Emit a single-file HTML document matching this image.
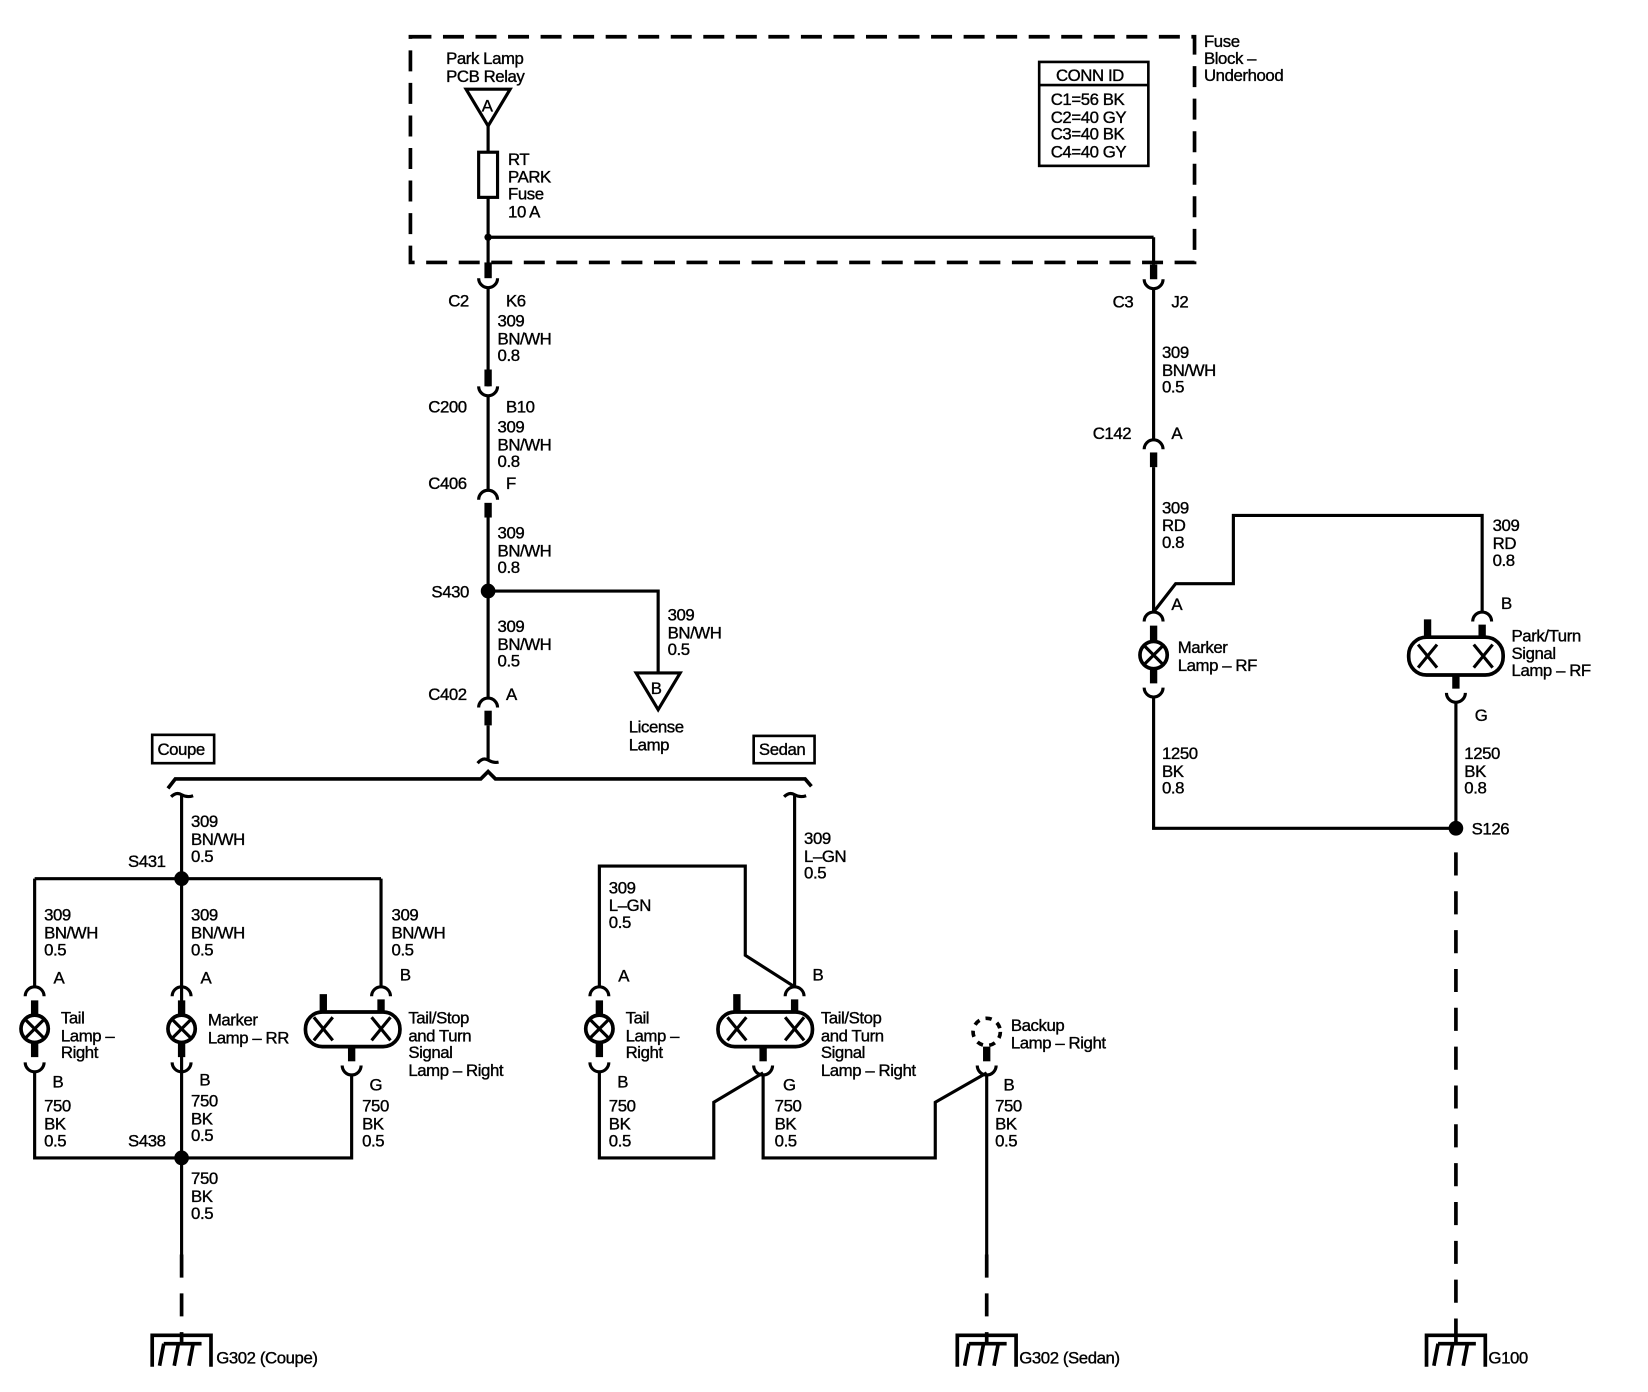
<!DOCTYPE html>
<html><head><meta charset="utf-8"><style>
html,body{margin:0;padding:0;background:#fff;}
svg{display:block;}
text{font-family:"Liberation Sans",Arial,sans-serif;font-size:16px;fill:#000;stroke:#000;stroke-width:0.35;letter-spacing:-0.4px;}
</style></head><body>
<svg width="1648" height="1392" viewBox="0 0 1570 1326" preserveAspectRatio="none" xmlns="http://www.w3.org/2000/svg">
<defs>
<!-- arc opening up (cup) -->
<path id="cupU" d="M-9,0 A9,9 0 0 0 9,0" fill="none" stroke="#000" stroke-width="3"/>
<!-- arc opening down (cap) -->
<path id="capD" d="M-9,0 A9,9 0 0 1 9,0" fill="none" stroke="#000" stroke-width="3"/>
<g id="bulb"><circle r="13" fill="#fff" stroke="#000" stroke-width="3.5"/><path d="M-9,-9 L9,9 M9,-9 L-9,9" stroke="#000" stroke-width="3"/></g>
<path id="xx" d="M-9,-11 L9,11 M9,-11 L-9,11" stroke="#000" stroke-width="3"/>
<g id="gnd" fill="none" stroke="#000" stroke-width="3.5"><path d="M-28,30 L-28,0 L28,0 L28,30"/><path d="M0,0 L0,8 M-17,8 L19,8 M-17,8 L-21,29 M-3,8 L-7,29 M11,8 L7,29"/></g>
</defs>
<g fill="none" stroke="#000" stroke-width="3">
<!-- fuse block dashed box -->
<rect x="391" y="35" width="747" height="215" stroke-dasharray="20 11" stroke-width="3.5"/>
<!-- conn id box -->
<rect x="990" y="59" width="104" height="99" stroke-width="2.5"/>
<line x1="990" y1="81" x2="1094" y2="81" stroke-width="2.5"/>
<!-- relay triangle -->
<polygon points="444,85 486,85 465,120"/>
<line x1="465" y1="120" x2="465" y2="252"/>
<rect x="456" y="145" width="18" height="43" fill="#fff"/>
<line x1="465" y1="226" x2="1099" y2="226"/>
<line x1="1099" y1="226" x2="1099" y2="252"/>
<!-- C2 -->
<line x1="465" y1="250" x2="465" y2="265" stroke-width="7"/>
<use href="#cupU" x="465" y="265"/>
<line x1="465" y1="274" x2="465" y2="368"/>
<!-- C200 -->
<line x1="465" y1="352" x2="465" y2="368" stroke-width="7"/>
<use href="#cupU" x="465" y="368"/>
<line x1="465" y1="377" x2="465" y2="467"/>
<!-- C406 -->
<use href="#capD" x="465" y="476"/>
<line x1="465" y1="479" x2="465" y2="493" stroke-width="7"/>
<line x1="465" y1="493" x2="465" y2="665"/>
<!-- license branch -->
<polyline points="465,563 627,563 627,641"/>
<polygon points="606,641 648,641 627,676"/>
<!-- C402 -->
<use href="#capD" x="465" y="674"/>
<line x1="465" y1="677" x2="465" y2="691" stroke-width="7"/>
<line x1="465" y1="691" x2="465" y2="724"/>
<path d="M455,727 Q460,721 465,724 Q470,727 475,726"/>
<!-- bus -->
<path d="M160,751 L167,742 L458,742 L465,735 L472,742 L767,742 L773,749" stroke-width="3.5"/>
<!-- coupe/sedan boxes -->
<rect x="145" y="700" width="59" height="27" stroke-width="2.5"/>
<rect x="718" y="701" width="58" height="26" stroke-width="2.5"/>
<!-- coupe drop -->
<path d="M163,759 Q168,754 173,757 Q178,760 184,758"/>
<line x1="173" y1="757" x2="173" y2="1195"/>
<line x1="33" y1="837" x2="363" y2="837"/>
<line x1="33" y1="837" x2="33" y2="940"/>
<line x1="363" y1="837" x2="363" y2="940"/>
<!-- coupe tail lamp -->
<use href="#capD" x="33" y="949"/>
<line x1="33" y1="953" x2="33" y2="1007" stroke-width="7"/>
<use href="#bulb" x="33" y="980"/>
<use href="#cupU" x="33" y="1012"/>
<!-- coupe marker -->
<use href="#capD" x="173" y="949"/>
<line x1="173" y1="953" x2="173" y2="1007" stroke-width="7"/>
<use href="#bulb" x="173" y="980"/>
<use href="#cupU" x="173" y="1012"/>
<!-- coupe tail/stop -->
<use href="#capD" x="363" y="949"/>
<line x1="308" y1="947" x2="308" y2="965" stroke-width="7"/>
<line x1="363" y1="952" x2="363" y2="965" stroke-width="7"/>
<rect x="291" y="964" width="90" height="33" rx="16" stroke-width="3.5"/>
<use href="#xx" x="308" y="980"/><use href="#xx" x="363" y="980"/>
<line x1="335" y1="997" x2="335" y2="1011" stroke-width="7"/>
<use href="#cupU" x="335" y="1015"/>
<polyline points="33,1021 33,1103 335,1103 335,1024"/>
<!-- sedan -->
<path d="M747,759 Q752,754 757,757 Q762,760 768,758"/>
<line x1="757" y1="757" x2="757" y2="940"/>
<polyline points="571,940 571,825 710,825 710,910 757,940"/>
<use href="#capD" x="571" y="949"/>
<line x1="571" y1="953" x2="571" y2="1007" stroke-width="7"/>
<use href="#bulb" x="571" y="980"/>
<use href="#cupU" x="571" y="1012"/>
<use href="#capD" x="757" y="949"/>
<line x1="702" y1="947" x2="702" y2="965" stroke-width="7"/>
<line x1="757" y1="952" x2="757" y2="965" stroke-width="7"/>
<rect x="684" y="964" width="90" height="33" rx="16" stroke-width="3.5"/>
<use href="#xx" x="702" y="980"/><use href="#xx" x="757" y="980"/>
<line x1="727" y1="997" x2="727" y2="1011" stroke-width="7"/>
<use href="#cupU" x="727" y="1015"/>
<polyline points="571,1021 571,1103 680,1103 680,1050 727,1022"/>
<polyline points="727,1024 727,1103 891,1103 891,1050 940,1022"/>
<!-- backup -->
<circle cx="940" cy="983" r="13" stroke-dasharray="6 6" stroke-width="3.5"/>
<line x1="940" y1="997" x2="940" y2="1011" stroke-width="7"/>
<use href="#cupU" x="940" y="1015"/>
<line x1="940" y1="1024" x2="940" y2="1195"/>
<!-- right side -->
<line x1="1099" y1="252" x2="1099" y2="266" stroke-width="7"/>
<use href="#cupU" x="1099" y="266"/>
<line x1="1099" y1="275" x2="1099" y2="419"/>
<use href="#capD" x="1099" y="428"/>
<line x1="1099" y1="431" x2="1099" y2="445" stroke-width="7"/>
<line x1="1099" y1="445" x2="1099" y2="583"/>
<polyline points="1099,583 1120,556 1175,556 1175,491 1412,491 1412,583"/>
<use href="#capD" x="1099" y="592"/>
<line x1="1099" y1="596" x2="1099" y2="651" stroke-width="7"/>
<use href="#bulb" x="1099" y="624"/>
<use href="#cupU" x="1099" y="655"/>
<polyline points="1099,664 1099,789 1387,789"/>
<use href="#capD" x="1412" y="592"/>
<line x1="1360" y1="590" x2="1360" y2="608" stroke-width="7"/>
<line x1="1412" y1="595" x2="1412" y2="608" stroke-width="7"/>
<rect x="1342" y="607" width="90" height="36" rx="17" stroke-width="3.5"/>
<use href="#xx" x="1360" y="625"/><use href="#xx" x="1413" y="625"/>
<line x1="1387" y1="643" x2="1387" y2="656" stroke-width="7"/>
<use href="#cupU" x="1387" y="660"/>
<line x1="1387" y1="669" x2="1387" y2="789"/>
<!-- dashed grounds -->
<line x1="173" y1="1195" x2="173" y2="1272" stroke-dasharray="22 15" stroke-width="3.5"/>
<line x1="940" y1="1195" x2="940" y2="1272" stroke-dasharray="22 15" stroke-width="3.5"/>
<line x1="1387" y1="812" x2="1387" y2="1272" stroke-dasharray="22 15" stroke-width="3.5"/>
</g>
<g fill="#000">
<circle cx="465" cy="226" r="3.5"/>
<circle cx="465" cy="563" r="7"/>
<circle cx="173" cy="837" r="7"/>
<circle cx="173" cy="1103" r="7"/>
<circle cx="1387" cy="789" r="7"/>
</g>
<use href="#gnd" x="173" y="1272"/>
<use href="#gnd" x="940" y="1272"/>
<use href="#gnd" x="1387" y="1272"/>

<!-- TEXT -->
<text x="1147" y="45">Fuse</text><text x="1147" y="61">Block –</text><text x="1147" y="77">Underhood</text>
<text x="1006" y="77">CONN ID</text>
<text x="1001" y="100">C1=56 BK</text><text x="1001" y="117">C2=40 GY</text><text x="1001" y="133">C3=40 BK</text><text x="1001" y="150">C4=40 GY</text>
<text x="425" y="61">Park Lamp</text><text x="425" y="78">PCB Relay</text>
<text x="459" y="106">A</text>
<text x="484" y="157">RT</text><text x="484" y="174">PARK</text><text x="484" y="190">Fuse</text><text x="484" y="207">10 A</text>
<text x="427" y="292">C2</text><text x="482" y="292">K6</text>
<text x="474" y="311">309</text><text x="474" y="328">BN/WH</text><text x="474" y="344">0.8</text>
<text x="408" y="393">C200</text><text x="482" y="393">B10</text>
<text x="474" y="412">309</text><text x="474" y="429">BN/WH</text><text x="474" y="445">0.8</text>
<text x="408" y="466">C406</text><text x="482" y="466">F</text>
<text x="474" y="513">309</text><text x="474" y="530">BN/WH</text><text x="474" y="546">0.8</text>
<text x="411" y="569">S430</text>
<text x="474" y="602">309</text><text x="474" y="619">BN/WH</text><text x="474" y="635">0.5</text>
<text x="636" y="591">309</text><text x="636" y="608">BN/WH</text><text x="636" y="624">0.5</text>
<text x="620" y="661">B</text>
<text x="599" y="698">License</text><text x="599" y="715">Lamp</text>
<text x="408" y="667">C402</text><text x="482" y="667">A</text>
<text x="150" y="719">Coupe</text><text x="723" y="719">Sedan</text>
<text x="182" y="788">309</text><text x="182" y="805">BN/WH</text><text x="182" y="821">0.5</text>
<text x="122" y="826">S431</text>
<text x="42" y="877">309</text><text x="42" y="894">BN/WH</text><text x="42" y="910">0.5</text>
<text x="182" y="877">309</text><text x="182" y="894">BN/WH</text><text x="182" y="910">0.5</text>
<text x="373" y="877">309</text><text x="373" y="894">BN/WH</text><text x="373" y="910">0.5</text>
<text x="51" y="937">A</text><text x="191" y="937">A</text><text x="381" y="934">B</text>
<text x="58" y="975">Tail</text><text x="58" y="992">Lamp –</text><text x="58" y="1008">Right</text>
<text x="198" y="977">Marker</text><text x="198" y="994">Lamp – RR</text>
<text x="389" y="975">Tail/Stop</text><text x="389" y="992">and Turn</text><text x="389" y="1008">Signal</text><text x="389" y="1025">Lamp – Right</text>
<text x="50" y="1036">B</text><text x="190" y="1034">B</text><text x="352" y="1039">G</text>
<text x="42" y="1059">750</text><text x="42" y="1076">BK</text><text x="42" y="1092">0.5</text>
<text x="182" y="1054">750</text><text x="182" y="1071">BK</text><text x="182" y="1087">0.5</text>
<text x="345" y="1059">750</text><text x="345" y="1076">BK</text><text x="345" y="1092">0.5</text>
<text x="122" y="1092">S438</text>
<text x="182" y="1128">750</text><text x="182" y="1145">BK</text><text x="182" y="1161">0.5</text>
<text x="206" y="1299">G302 (Coupe)</text>
<text x="766" y="804">309</text><text x="766" y="821">L–GN</text><text x="766" y="837">0.5</text>
<text x="580" y="851">309</text><text x="580" y="868">L–GN</text><text x="580" y="884">0.5</text>
<text x="589" y="935">A</text><text x="774" y="934">B</text>
<text x="596" y="975">Tail</text><text x="596" y="992">Lamp –</text><text x="596" y="1008">Right</text>
<text x="782" y="975">Tail/Stop</text><text x="782" y="992">and Turn</text><text x="782" y="1008">Signal</text><text x="782" y="1025">Lamp – Right</text>
<text x="588" y="1036">B</text><text x="746" y="1039">G</text><text x="956" y="1039">B</text>
<text x="963" y="982">Backup</text><text x="963" y="999">Lamp – Right</text>
<text x="580" y="1059">750</text><text x="580" y="1076">BK</text><text x="580" y="1092">0.5</text>
<text x="738" y="1059">750</text><text x="738" y="1076">BK</text><text x="738" y="1092">0.5</text>
<text x="948" y="1059">750</text><text x="948" y="1076">BK</text><text x="948" y="1092">0.5</text>
<text x="971" y="1299">G302 (Sedan)</text>
<text x="1060" y="293">C3</text><text x="1116" y="293">J2</text>
<text x="1107" y="341">309</text><text x="1107" y="358">BN/WH</text><text x="1107" y="374">0.5</text>
<text x="1041" y="418">C142</text><text x="1116" y="418">A</text>
<text x="1107" y="489">309</text><text x="1107" y="506">RD</text><text x="1107" y="522">0.8</text>
<text x="1422" y="506">309</text><text x="1422" y="523">RD</text><text x="1422" y="539">0.8</text>
<text x="1116" y="581">A</text><text x="1430" y="580">B</text>
<text x="1122" y="622">Marker</text><text x="1122" y="639">Lamp – RF</text>
<text x="1440" y="611">Park/Turn</text><text x="1440" y="628">Signal</text><text x="1440" y="644">Lamp – RF</text>
<text x="1405" y="687">G</text>
<text x="1107" y="723">1250</text><text x="1107" y="740">BK</text><text x="1107" y="756">0.8</text>
<text x="1395" y="723">1250</text><text x="1395" y="740">BK</text><text x="1395" y="756">0.8</text>
<text x="1402" y="795">S126</text>
<text x="1418" y="1299">G100</text>
</svg>
</body></html>
